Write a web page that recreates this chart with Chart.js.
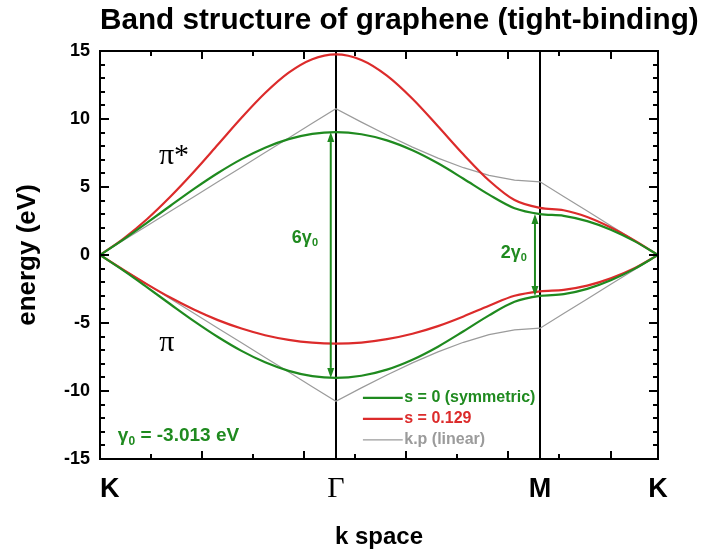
<!DOCTYPE html>
<html>
<head>
<meta charset="utf-8">
<title>Band structure of graphene</title>
<script src="https://cdn.jsdelivr.net/npm/chart.js@4.4.1/dist/chart.umd.min.js"></script>
<style>
  html, body { margin: 0; padding: 0; background: #fff; }
  #wrap { width: 717px; height: 556px; }
</style>
</head>
<body>
<div id="wrap"><canvas id="bands"></canvas></div>
<script>
// path K -> Gamma -> M -> K, measured in minor-tick units
var kPath = [0, 0.462, 0.924, 1.386, 1.848, 2.31, 2.772, 3.234, 3.696, 4.158, 4.62,
             5.12, 5.62, 6.12, 6.62, 7.12, 7.62, 8.12, 8.62,
             9.082, 9.544, 10.006, 10.468, 10.93];
var kNames = ['K', 'Γ', 'M', 'K'];
var kNamePos = [0, 4.62, 8.62, 10.93];

var gamma0 = 3.013;

// s = 0 (symmetric)
var symUpper = [0, 1.15, 2.38, 3.64, 4.88, 6.03, 7.05, 7.89, 8.52, 8.91, 9.04,
                8.88, 8.43, 7.70, 6.74, 5.61, 4.44, 3.44, 3.01,
                2.88, 2.49, 1.86, 1.02, 0];
var symLower = [0, -1.15, -2.38, -3.64, -4.88, -6.03, -7.05, -7.89, -8.52, -8.91, -9.04,
                -8.88, -8.43, -7.70, -6.74, -5.61, -4.44, -3.44, -3.01,
                -2.88, -2.49, -1.86, -1.02, 0];

// s = 0.129
var asymUpper = [0, 1.21, 2.65, 4.32, 6.16, 8.12, 10.09, 11.91, 13.41, 14.40, 14.75,
                 14.34, 13.19, 11.49, 9.47, 7.39, 5.48, 4.04, 3.46,
                 3.29, 2.79, 2.02, 1.07, 0];
var asymLower = [0, -1.10, -2.16, -3.15, -4.03, -4.79, -5.41, -5.90, -6.24, -6.45, -6.52,
                 -6.44, -6.19, -5.79, -5.23, -4.52, -3.73, -3.00, -2.67,
                 -2.56, -2.25, -1.72, -0.98, 0];

// k.p (linear)
var kpUpper = [0, 1.08, 2.15, 3.23, 4.30, 5.38, 6.46, 7.53, 8.61, 9.68, 10.76,
               9.77, 8.82, 7.93, 7.12, 6.42, 5.86, 5.51, 5.38,
               4.30, 3.23, 2.15, 1.08, 0];
var kpLower = [0, -1.08, -2.15, -3.23, -4.30, -5.38, -6.46, -7.53, -8.61, -9.68, -10.76,
               -9.77, -8.82, -7.93, -7.12, -6.42, -5.86, -5.51, -5.38,
               -4.30, -3.23, -2.15, -1.08, 0];

var chartTitle = 'Band structure of graphene (tight-binding)';

var GREEN = '#1f8a1f';
var RED = '#dc2b2b';
var GREY = '#9b9b9b';
var SANS = "'Liberation Sans', Arial, sans-serif";
var SERIF = "'Liberation Serif', 'Times New Roman', serif";

Chart.defaults.font.family = SANS;
Chart.defaults.color = '#000';

// upper band, a break, then lower band
function bandPoints(upper, lower) {
    var pts = upper.map(function (e, i) {
        return { x: kPath[i], y: e };
    });
    pts.push({ x: kPath[kPath.length - 1], y: null });
    return pts.concat(lower.map(function (e, i) {
        return { x: kPath[i], y: e };
    }));
}

function textWithSub(ctx, parts, x, y, size, align) {
    var big = 'bold ' + size + 'px ' + SANS;
    var small = 'bold ' + Math.round(size * 0.62) + 'px ' + SANS;
    var total = 0;
    parts.forEach(function (p) {
        ctx.font = p.sub ? small : big;
        total += ctx.measureText(p.t).width;
    });
    var cx = align === 'right' ? x - total : (align === 'center' ? x - total / 2 : x);
    ctx.textAlign = 'left';
    parts.forEach(function (p) {
        ctx.font = p.sub ? small : big;
        ctx.fillText(p.t, cx, p.sub ? y + size * 0.3 : y);
        cx += ctx.measureText(p.t).width;
    });
}

function arrow(ctx, x, yTop, yBot, color) {
    var head = 10, half = 3.5;
    ctx.strokeStyle = color;
    ctx.fillStyle = color;
    ctx.lineWidth = 2;
    ctx.beginPath();
    ctx.moveTo(x, yTop + head);
    ctx.lineTo(x, yBot - head);
    ctx.stroke();
    ctx.beginPath();
    ctx.moveTo(x, yTop);
    ctx.lineTo(x - half, yTop + head);
    ctx.lineTo(x + half, yTop + head);
    ctx.closePath();
    ctx.moveTo(x, yBot);
    ctx.lineTo(x - half, yBot - head);
    ctx.lineTo(x + half, yBot - head);
    ctx.closePath();
    ctx.fill();
}

var decorations = {
    id: 'decorations',
    afterDatasetsDraw: function (chart) {
        var ctx = chart.ctx, area = chart.chartArea;
        var xs = chart.scales.x, ys = chart.scales.y;
        ctx.save();

        // title, starting flush with the plot frame and running past it
        ctx.fillStyle = '#000';
        ctx.font = 'bold 29.7px ' + SANS;
        ctx.textAlign = 'left';
        ctx.textBaseline = 'alphabetic';
        ctx.fillText(chartTitle, area.left, 29);

        // frame with inward ticks
        ctx.strokeStyle = '#000';
        ctx.lineWidth = 2;
        ctx.strokeRect(area.left, area.top, area.right - area.left, area.bottom - area.top);
        ctx.beginPath();
        for (var k = 1; k <= 10; k++) {
            var px = Math.round(xs.getPixelForValue(k));
            var len = k % 2 === 0 ? 8 : 5;
            ctx.moveTo(px, area.bottom);
            ctx.lineTo(px, area.bottom - len);
            ctx.moveTo(px, area.top);
            ctx.lineTo(px, area.top + len);
        }
        for (var e = -14; e <= 14; e++) {
            var py = Math.round(ys.getPixelForValue(e));
            var l = e % 5 === 0 ? 9 : 5;
            ctx.moveTo(area.left, py);
            ctx.lineTo(area.left + l, py);
            ctx.moveTo(area.right, py);
            ctx.lineTo(area.right - l, py);
        }
        ctx.stroke();

        // high-symmetry point names
        kNames.forEach(function (name, i) {
            var x = xs.getPixelForValue(kNamePos[i]);
            if (name === 'Γ') {
                ctx.font = '30px ' + SERIF;
            } else {
                ctx.font = 'bold 27px ' + SANS;
            }
            ctx.textAlign = i === 0 ? 'left' : 'center';
            ctx.fillText(name, x, area.bottom + 38);
        });

        // band labels
        ctx.font = '30px ' + SERIF;
        ctx.textAlign = 'center';
        ctx.textBaseline = 'middle';
        ctx.fillText('π*', xs.getPixelForValue(1.45), ys.getPixelForValue(7.3));
        ctx.fillText('π', xs.getPixelForValue(1.31), ys.getPixelForValue(-6.5));

        // bandwidth arrows at Gamma and M
        arrow(ctx, xs.getPixelForValue(4.52), ys.getPixelForValue(3 * gamma0),
              ys.getPixelForValue(-3 * gamma0), GREEN);
        arrow(ctx, xs.getPixelForValue(8.52), ys.getPixelForValue(gamma0),
              ys.getPixelForValue(-gamma0), GREEN);

        ctx.fillStyle = GREEN;
        ctx.textBaseline = 'middle';
        textWithSub(ctx, [{ t: '6γ' }, { t: '0', sub: true }],
                    xs.getPixelForValue(4.27), ys.getPixelForValue(1.25), 18, 'right');
        textWithSub(ctx, [{ t: '2γ' }, { t: '0', sub: true }],
                    xs.getPixelForValue(8.36), ys.getPixelForValue(0.15), 18, 'right');
        textWithSub(ctx, [{ t: 'γ' }, { t: '0', sub: true }, { t: ' = -' + gamma0.toFixed(3) + ' eV' }],
                    xs.getPixelForValue(0.35), ys.getPixelForValue(-13.3), 19, 'left');

        // legend
        var rows = [-10.5, -12.05, -13.6];
        chart.data.datasets.forEach(function (ds, i) {
            var y = ys.getPixelForValue(rows[i]);
            ctx.strokeStyle = ds.borderColor;
            ctx.lineWidth = ds.borderWidth;
            ctx.beginPath();
            ctx.moveTo(xs.getPixelForValue(5.15), y);
            ctx.lineTo(xs.getPixelForValue(5.93), y);
            ctx.stroke();
            ctx.fillStyle = ds.borderColor;
            ctx.font = 'bold 16px ' + SANS;
            ctx.textAlign = 'left';
            ctx.fillText(ds.label, xs.getPixelForValue(5.96), y);
        });

        ctx.restore();
    }
};

new Chart(document.getElementById('bands'), {
    type: 'line',
    data: {
        datasets: [{
            label: 's = 0 (symmetric)',
            data: bandPoints(symUpper, symLower),
            borderColor: GREEN,
            borderWidth: 2.2,
            cubicInterpolationMode: 'monotone',
            pointRadius: 0
        }, {
            label: 's = 0.129',
            data: bandPoints(asymUpper, asymLower),
            borderColor: RED,
            borderWidth: 2.2,
            cubicInterpolationMode: 'monotone',
            pointRadius: 0
        }, {
            label: 'k.p (linear)',
            data: bandPoints(kpUpper, kpLower),
            borderColor: GREY,
            borderWidth: 1.2,
            tension: 0,
            pointRadius: 0
        }]
    },
    options: {
        responsive: true,
        maintainAspectRatio: false,
        animation: false,
        layout: { padding: { left: 0, right: 59, top: 51, bottom: 0 } },
        plugins: {
            legend: { display: false },
            tooltip: { enabled: false },
            title: { display: false }
        },
        scales: {
            x: {
                type: 'linear',
                min: 0,
                max: 10.93,
                afterBuildTicks: function (scale) {
                    scale.ticks = kNamePos.map(function (v) {
                        return { value: v };
                    });
                },
                afterFit: function (scale) {
                    scale.height = 97;
                },
                ticks: { display: false },
                grid: { color: '#000', lineWidth: 2, drawTicks: false },
                border: { display: false },
                title: {
                    display: true,
                    text: 'k space',
                    font: { size: 24, weight: 'bold' },
                    padding: { top: 0, bottom: 4 }
                }
            },
            y: {
                min: -15,
                max: 15,
                afterFit: function (scale) {
                    scale.width = 100;
                },
                ticks: {
                    stepSize: 5,
                    padding: 10,
                    font: { size: 18, weight: 'bold' }
                },
                grid: { display: false, drawTicks: false },
                border: { display: false },
                title: {
                    display: true,
                    text: 'energy (eV)',
                    font: { size: 26, weight: 'bold' },
                    padding: { top: 12 }
                }
            }
        }
    },
    plugins: [decorations]
});
</script>
</body>
</html>
